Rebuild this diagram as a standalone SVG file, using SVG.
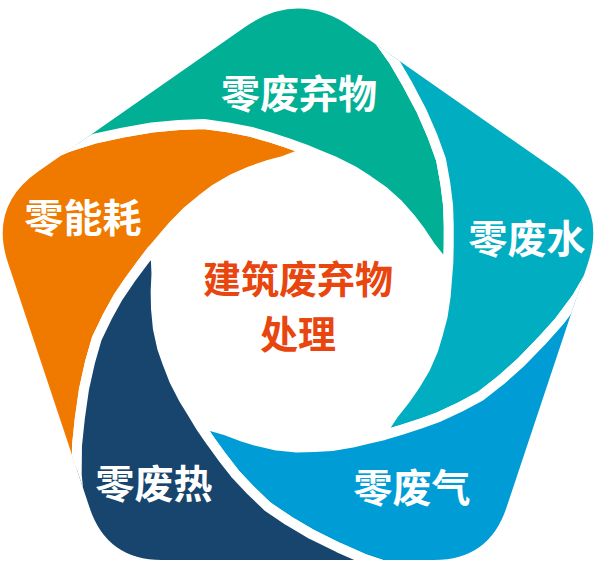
<svg xmlns="http://www.w3.org/2000/svg" xmlns:xlink="http://www.w3.org/1999/xlink" width="600" height="568" viewBox="0 0 600 568">
<style>
.seg{stroke:#ffffff;stroke-width:10;stroke-linejoin:round}
.lbl{font-family:"Noto Sans CJK SC","Microsoft YaHei",sans-serif;font-weight:700;font-size:39px;fill:#ffffff;text-anchor:middle}
.ctr{font-family:"Noto Sans CJK SC","Microsoft YaHei",sans-serif;font-weight:700;font-size:38px;fill:#E8450F;text-anchor:middle}
</style>
<defs>
<clipPath id="pent"><path d="M244.7,27.2 Q298,-10 351.3,27.2 L557.8,171.6 Q607,206 588,262.9 L506.4,507.8 Q489,560 434,560 L162,560 Q107,560 89.6,507.8 L8,262.9 Q-11,206 38.2,171.6 Z"/></clipPath>
<path id="seg" d="M304.8,150.2 L296.7,156 L284.1,160.7 L267,165.4 L250.6,171.1 L232.4,179 L215.3,189 L201.4,199.6 L187.7,210.8 L173.2,225.5 L162.9,237.6 L151.9,250.4 L141.2,264.4 L129.9,279.9 L118.2,297.1 L107.4,316.7 L96.8,338.7 L89.9,362.7 L84,389.3 L79.8,418.6 L77,445.8 L76.7,474.8 L79.8,505 L95.9,568.4 L126.2,635 L60,760 L-200,560 L-200,220 L-68.9,243.6 L-15,194.2 L40.4,159.2 L68.1,147 L95.8,138.3 L122.5,132.6 L151.7,127.5 L178.8,124.9 L203.8,124 L228,127.3 L249.9,131.5 L269.9,137.3 L288.1,143.3 L304.8,149.2 Z"/>
</defs>
<rect width="600" height="568" fill="#ffffff"/>
<g id="node-orange">
<g clip-path="url(#pent)"><use href="#seg" xlink:href="#seg" class="seg" fill="#F07A00"/></g>
<text class="lbl" x="83" y="232">零能耗</text>
</g>
<g id="node-teal">
<g clip-path="url(#pent)"><use href="#seg" xlink:href="#seg" class="seg" fill="#00AF94" transform="rotate(72 298 305)"/></g>
<text class="lbl" x="299" y="108">零废弃物</text>
</g>
<g id="node-cyan">
<g clip-path="url(#pent)"><use href="#seg" xlink:href="#seg" class="seg" fill="#00ADC1" transform="rotate(144 298 305)"/></g>
<text class="lbl" x="527" y="253">零废水</text>
</g>
<g id="node-sky">
<g clip-path="url(#pent)"><use href="#seg" xlink:href="#seg" class="seg" fill="#009CD6" transform="rotate(216 298 305)"/></g>
<text class="lbl" x="412" y="502">零废气</text>
</g>
<g id="node-navy">
<g clip-path="url(#pent)"><use href="#seg" xlink:href="#seg" class="seg" fill="#17456E" transform="rotate(288 298 305)"/></g>
<text class="lbl" x="154" y="498">零废热</text>
</g>
<g id="node-center">
<text class="ctr"><tspan x="298" y="293">建筑废弃物</tspan><tspan x="298" y="348">处理</tspan></text>
</g>
<g id="connectors"/>
</svg>
